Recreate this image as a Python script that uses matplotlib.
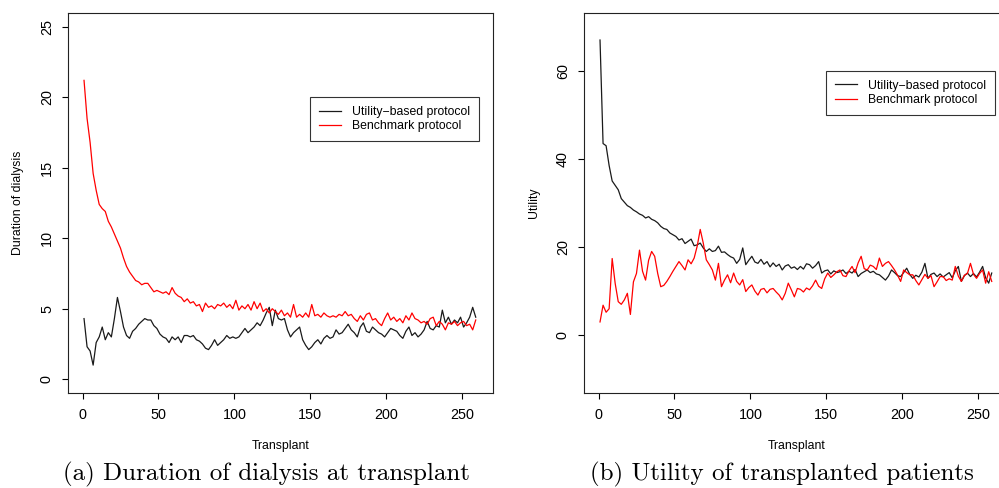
import numpy as np
import matplotlib
matplotlib.use("Agg")
import matplotlib.pyplot as plt

plt.rcParams['font.family'] = ['Liberation Sans', 'DejaVu Sans']

# transplant index (every second transplant)
transplant = np.arange(1, 260, 2)

# (a) duration of dialysis at transplant
dur_utility = [
    4.3, 2.3, 2.0, 1.0, 2.6, 3.0, 3.7, 2.8, 3.3, 3.0,
    4.3, 5.8, 4.8, 3.7, 3.1, 2.9, 3.4, 3.6, 3.9, 4.1,
    4.3, 4.2, 4.2, 3.8, 3.6, 3.2, 3.0, 2.9, 2.6, 3.0,
    2.8, 3.0, 2.6, 3.1, 3.1, 3.0, 3.1, 2.8, 2.7, 2.5,
    2.2, 2.1, 2.4, 2.8, 2.4, 2.6, 2.8, 3.1, 2.9, 3.0,
    2.9, 3.0, 3.3, 3.6, 3.3, 3.5, 3.7, 4.0, 3.8, 4.2,
    4.7, 5.1, 3.8, 4.9, 4.3, 4.2, 4.3, 3.5, 3.0, 3.3,
    3.5, 3.7, 2.8, 2.4, 2.1, 2.3, 2.6, 2.8, 2.5, 2.9,
    3.1, 2.9, 3.0, 3.5, 3.2, 3.3, 3.6, 3.9, 3.5, 3.3,
    3.0, 3.7, 4.0, 3.4, 3.3, 3.7, 3.5, 3.3, 3.2, 3.0,
    3.3, 3.6, 3.5, 3.4, 3.1, 2.9, 3.4, 3.7, 3.1, 3.3,
    3.0, 3.2, 3.5, 4.1, 3.6, 3.5, 3.8, 3.7, 4.9, 4.0,
    4.4, 3.9, 4.2, 4.0, 4.4, 3.7, 4.0, 4.4, 5.1, 4.4,
]
dur_benchmark = [
    21.2, 18.5, 16.8, 14.6, 13.4, 12.4, 12.1, 11.9, 11.2, 10.8,
    10.3, 9.8, 9.3, 8.6, 8.0, 7.6, 7.3, 7.0, 6.9, 6.7,
    6.8, 6.8, 6.5, 6.2, 6.3, 6.2, 6.1, 6.2, 6.0, 6.5,
    6.1, 5.9, 5.8, 5.5, 5.7, 5.4, 5.5, 5.2, 5.3, 4.8,
    5.4, 5.1, 5.2, 5.0, 5.3, 5.2, 5.4, 5.1, 5.3, 5.0,
    5.6, 4.9, 5.2, 5.0, 5.3, 4.9, 5.5, 5.0, 5.4, 4.8,
    5.0, 4.7, 5.0, 4.8, 4.6, 4.9, 4.5, 4.7, 4.4, 5.3,
    4.4, 4.6, 4.4, 4.7, 4.4, 5.3, 4.5, 4.6, 4.4, 4.7,
    4.5, 4.4, 4.5, 4.4, 4.6, 4.5, 4.8, 4.5, 4.6, 4.3,
    4.1, 4.5, 4.2, 4.6, 4.7, 4.2, 4.3, 4.0, 3.8, 4.3,
    4.7, 4.2, 4.4, 4.1, 4.3, 4.0, 4.5, 4.2, 4.7, 4.3,
    4.2, 4.0, 4.1, 3.9, 4.3, 4.4, 3.8, 4.1, 3.9, 3.5,
    4.0, 3.9, 4.1, 3.8, 4.0, 4.1, 3.8, 3.9, 3.5, 4.2,
]

# (b) utility of transplanted patients
util_utility = [
    67.0, 43.5, 43.0, 38.5, 35.0, 34.0, 33.0, 31.0, 30.2, 29.4,
    29.0, 28.4, 28.0, 27.5, 27.2, 26.6, 26.9, 26.3, 26.0, 25.5,
    24.7, 24.2, 24.0, 23.2, 22.8, 22.4, 21.6, 21.9, 20.8, 21.3,
    21.8, 20.3, 20.5, 20.9, 19.8, 19.0, 19.6, 19.0, 19.2, 20.2,
    18.8, 18.9, 18.3, 17.8, 17.5, 16.3, 17.2, 19.8, 16.0, 17.0,
    17.9, 16.6, 16.3, 17.2, 16.1, 16.7, 15.5, 16.4, 15.6, 16.1,
    14.8, 15.7, 16.0, 15.2, 15.5, 14.9, 15.6, 15.0, 16.2, 16.0,
    15.2, 15.8, 16.7, 14.1, 14.6, 14.8, 13.9, 14.6, 14.2, 14.4,
    14.8, 14.0, 14.5, 14.1, 14.9, 13.3, 14.0, 14.4, 14.8, 14.2,
    14.5, 13.9, 13.7, 13.1, 12.5, 13.4, 14.8, 14.2, 13.5, 13.3,
    14.2, 15.2, 13.8, 12.9, 13.6, 13.2, 14.3, 16.3, 12.9, 13.8,
    14.1, 13.3, 13.9, 13.2, 13.7, 14.2, 13.0, 14.6, 15.6, 12.2,
    13.5, 14.1, 13.3, 14.0, 13.2, 14.3, 15.6, 13.0, 11.8, 14.1,
]
util_benchmark = [
    3.0, 6.8, 5.2, 6.0, 17.4, 11.7, 7.6, 7.0, 8.0, 9.5,
    4.7, 12.1, 14.0, 19.3, 14.5, 12.5, 17.0, 19.0, 17.9, 14.0,
    11.0, 11.3, 12.2, 13.3, 14.5, 15.6, 16.7, 15.8, 14.8, 17.1,
    16.2, 17.5, 20.2, 24.0, 20.9, 17.1, 16.0, 14.8, 12.5, 16.3,
    11.0, 12.5, 13.7, 11.9, 14.1, 12.2, 11.4, 12.6, 9.9, 10.8,
    11.4, 10.0, 9.1, 10.4, 10.6, 9.6, 10.4, 10.6, 9.8, 9.1,
    8.0, 9.5, 11.8, 10.3, 8.7, 10.6, 10.4, 9.8, 10.7, 10.3,
    11.2, 12.5, 11.1, 10.6, 12.8, 14.1, 13.1, 13.7, 14.4, 14.8,
    13.5, 13.3, 14.6, 15.6, 14.2, 16.4, 17.9, 15.1, 14.8, 15.9,
    15.6, 14.9, 17.5, 15.6, 16.3, 16.7, 15.8, 14.8, 13.6, 12.2,
    14.8, 14.2, 13.7, 13.7, 12.4, 11.4, 12.6, 13.8, 12.9, 13.5,
    11.0, 12.1, 13.3, 13.3, 12.4, 12.8, 12.5, 15.6, 13.4, 12.2,
    13.6, 14.0, 16.3, 13.8, 12.9, 14.0, 14.8, 11.8, 14.4, 12.2,
]

labels = ["Utility\u2212based protocol", "Benchmark protocol"]

fig = plt.figure(figsize=(9.99, 4.88), dpi=100)
ax1 = fig.add_axes([0.06837, 0.19406, 0.4251, 0.7799])
ax2 = fig.add_axes([0.58488, 0.19406, 0.4251, 0.7799])

panels = [
    (ax1, dur_utility, dur_benchmark, (-1, 26), [0, 5, 10, 15, 20, 25], "Duration of dialysis", 0.7785),
    (ax2, util_utility, util_benchmark, (-13.2, 73.2), [0, 20, 40, 60], "Utility", 0.8476),
]

for ax, black, red, ylim, yticks, ylab, legy in panels:
    ax.plot(transplant, black, color="#1a1a1a", lw=0.9, label=labels[0])
    ax.plot(transplant, red, color="#ff0000", lw=0.9, label=labels[1])
    ax.set_xlim(1 - 0.04 * 259, 260 + 0.04 * 259)
    ax.set_ylim(*ylim)
    ax.set_xticks([0, 50, 100, 150, 200, 250])
    ax.set_yticks(yticks)
    ax.tick_params(direction="out", length=4.3, width=0.8, labelsize=10.4, pad=6)
    for lbl in ax.get_yticklabels():
        lbl.set_rotation(90)
        lbl.set_va("center")
    for s in ax.spines.values():
        s.set_linewidth(0.8)
        s.set_color("#222222")
    ax.set_xlabel("Transplant", fontsize=8.8)
    ax.xaxis.set_label_coords(0.5, -0.1227)
    ax.set_ylabel(ylab, fontsize=8.8)
    ax.yaxis.set_label_coords(-0.104, 0.5)
    leg = ax.legend(loc="upper left", bbox_to_anchor=(0.569, legy),
                    borderaxespad=0, fontsize=8.8, frameon=True, fancybox=False,
                    edgecolor="black", handlelength=1.8, handletextpad=0.9,
                    labelspacing=0.2, borderpad=0.72)
    leg.get_frame().set_linewidth(0.8)

fig.text(266 / 999, 14 / 488, "(a) Duration of dialysis at transplant",
         family="cmr10", fontsize=18, ha="center", va="center")
fig.text(782 / 999, 14 / 488, "(b) Utility of transplanted patients",
         family="cmr10", fontsize=18, ha="center", va="center")

fig.savefig("out.png", dpi=100)
